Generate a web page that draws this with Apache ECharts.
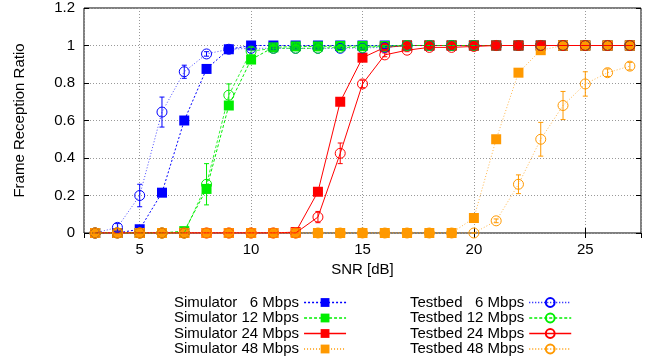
<!DOCTYPE html>
<html><head><meta charset="utf-8">
<script src="https://cdn.jsdelivr.net/npm/echarts@6/dist/echarts.min.js"></script>
<style>html,body{margin:0;padding:0;background:#fff}#c{width:653px;height:360px}</style>
</head><body><div id="c"></div>
<script>
const snr = [3,4,5,6,7,8,9,10,11,12,13,14,15,16,17,18,19,20,21,22,23,24,25,26,27];
const sim6  = [0,0,0.02,0.215,0.6,0.875,0.98,1,1,1,1,1,1,1,1,1,1,1,1,1,1,1,1,1,1];
const sim12 = [0,0,0,0,0.01,0.235,0.68,0.925,0.99,0.995,0.995,0.997,0.997,0.997,1,1,1,1,1,1,1,1,1,1,1];
const sim24 = [0,0,0,0,0,0,0,0,0,0.005,0.22,0.70,0.935,0.99,1,1,1,1,1,1,1,1,1,1,1];
const sim48 = [0,0,0,0,0,0,0,0,0,0,0,0,0,0,0,0,0,0.08,0.5,0.855,0.975,1,1,1,1];
const tb6   = [0,0.03,0.2,0.645,0.86,0.955,0.98,0.985,0.985,0.985,0.985,0.985,0.987,0.99,1,1,1,1,1,1,1,1,1,1,1];
const tb12  = [0,0,0,0,0,0.26,0.735,0.97,0.985,0.985,0.985,0.99,0.99,0.995,1,1,1,1,1,1,1,1,1,1,1];
const tb24  = [0,0,0,0,0,0,0,0,0,0,0.085,0.425,0.795,0.95,0.975,0.99,0.99,0.995,1,1,1,1,1,1,1];
const tb48  = [0,0,0,0,0,0,0,0,0,0,0,0,0,0,0,0,0,0,0.065,0.26,0.5,0.68,0.795,0.855,0.89];
const tb6Err  = [0,0.02,0.06,0.08,0.035,0.012,0.01,0.008,0.008,0.005,0.005,0.005,0.005,0.005,0,0,0,0,0,0,0,0,0,0,0];
const tb12Err = [0,0,0,0,0,0.11,0.06,0.02,0.01,0.005,0.005,0.005,0.005,0.005,0,0,0,0,0,0,0,0,0,0,0];
const tb24Err = [0,0,0,0,0,0,0,0,0,0,0.03,0.055,0.02,0.01,0.008,0.005,0.005,0,0,0,0,0,0,0,0];
const tb48Err = [0,0,0,0,0,0,0,0,0,0,0,0,0,0,0,0,0,0,0.01,0.05,0.09,0.075,0.065,0.02,0.02];
const yTicks = [0,0.2,0.4,0.6,0.8,1,1.2];
const xTicks = [5,10,15,20,25];
const simNames = ['Simulator   6 Mbps','Simulator 12 Mbps','Simulator 24 Mbps','Simulator 48 Mbps'];
const tbNames  = ['Testbed   6 Mbps','Testbed 12 Mbps','Testbed 24 Mbps','Testbed 48 Mbps'];

const BLUE='#0000ff', GREEN='#00ee00', RED='#ff0000', ORANGE='#ff9900';
const colors = [BLUE, GREEN, RED, ORANGE];
const simTypes = [[2,2],[3,2],'solid',[1,2]];
const tbTypes = [[1,2],[3,2],'solid',[1,2]];
const FONT='"Liberation Sans", Arial, sans-serif';

function pts(vals){ return snr.map((x,i)=>[x,vals[i]]); }
function simSeries(name, vals, color, type, opacity){
  return {name, type:'line', data:pts(vals), symbol:'rect', symbolSize:10,
    itemStyle:{color}, lineStyle:{color, width:1, type, opacity}, z:2};
}
function tbSeries(name, vals, color, type, opacity){
  return {name, type:'line', data:pts(vals), symbol:'circle', symbolSize:10,
    itemStyle:{color:'rgba(0,0,0,0)', borderColor:color, borderWidth:1},
    lineStyle:{color, width:1, type, opacity}, z:3};
}
function errSeries(vals, errs, color){
  return {type:'custom', name:'err', z:3, silent:true,
    data: snr.map((x,i)=>[x, vals[i], errs[i]]),
    renderItem:function(params, api){
      const x=api.value(0), y=api.value(1), e=api.value(2);
      const top=api.coord([x,y+e]), bot=api.coord([x,y-e]);
      const st={stroke:color, lineWidth:1};
      return {type:'group', children:[
        {type:'line', shape:{x1:top[0],y1:top[1],x2:bot[0],y2:bot[1]}, style:st},
        {type:'line', shape:{x1:top[0]-2.5,y1:top[1],x2:top[0]+2.5,y2:top[1]}, style:st},
        {type:'line', shape:{x1:bot[0]-2.5,y1:bot[1],x2:bot[0]+2.5,y2:bot[1]}, style:st}
      ]};
    }};
}

const chart = echarts.init(document.getElementById('c'), null, {renderer:'canvas'});
const axisFont = {fontFamily:FONT, fontSize:15, color:'#000'};
const legendBase = {orient:'vertical', align:'right', itemWidth:42, itemHeight:11, itemGap:0.5, padding:0,
  textStyle:{fontFamily:FONT, fontSize:15, color:'#000', lineHeight:15}, selectedMode:false};
function legendItems(names, types){
  return names.map((n,i)=>({name:n, lineStyle:{width:1.5, color:colors[i], type:types[i], opacity:1}}));
}
chart.setOption({
  animation:false,
  backgroundColor:'#fff',
  grid:{left:84, right:12, top:8, bottom:127, show:true, borderColor:'#000', borderWidth:1, backgroundColor:'transparent'},
  legend:[
    Object.assign({left:174, top:295, data:legendItems(simNames, simTypes)}, legendBase),
    Object.assign({left:410, top:295, data:legendItems(tbNames, tbTypes)}, legendBase)
  ],
  xAxis:[
    {type:'value', min:2.5, max:27.5, splitNumber:5, position:'bottom',
      name:'SNR [dB]', nameLocation:'middle', nameGap:29, nameTextStyle:axisFont,
      axisLine:{show:false}, axisTick:{inside:true, length:5, lineStyle:{color:'#000'}},
      axisLabel:Object.assign({margin:9, showMinLabel:false, showMaxLabel:false}, axisFont),
      splitLine:{show:true, lineStyle:{color:'#999', type:[1,2], width:1}}},
    {type:'value', min:2.5, max:27.5, splitNumber:5, position:'top',
      axisLine:{show:false}, axisTick:{inside:true, length:5, lineStyle:{color:'#000'}},
      axisLabel:{show:false}, splitLine:{show:false}}
  ],
  yAxis:[
    {type:'value', min:0, max:1.2, interval:0.2, position:'left',
      name:'Frame Reception Ratio', nameLocation:'middle', nameGap:57, nameTextStyle:axisFont,
      axisLine:{show:false}, axisTick:{inside:true, length:5, lineStyle:{color:'#000'}},
      axisLabel:Object.assign({margin:9}, axisFont),
      splitLine:{show:true, lineStyle:{color:'#999', type:[1,2], width:1}}},
    {type:'value', min:0, max:1.2, interval:0.2, position:'right',
      axisLine:{show:false}, axisTick:{inside:true, length:5, lineStyle:{color:'#000'}},
      axisLabel:{show:false}, splitLine:{show:false}}
  ],
  series:[
    simSeries(simNames[0], sim6, BLUE, simTypes[0], 1),
    simSeries(simNames[1], sim12, GREEN, simTypes[1], 1),
    simSeries(simNames[2], sim24, RED, simTypes[2], 1),
    simSeries(simNames[3], sim48, ORANGE, simTypes[3], 0.7),
    tbSeries(tbNames[0], tb6, BLUE, tbTypes[0], 0.7), errSeries(tb6, tb6Err, BLUE),
    tbSeries(tbNames[1], tb12, GREEN, tbTypes[1], 0.8), errSeries(tb12, tb12Err, GREEN),
    tbSeries(tbNames[2], tb24, RED, tbTypes[2], 1), errSeries(tb24, tb24Err, RED),
    tbSeries(tbNames[3], tb48, ORANGE, tbTypes[3], 0.7), errSeries(tb48, tb48Err, ORANGE)
  ]
});
</script></body></html>
